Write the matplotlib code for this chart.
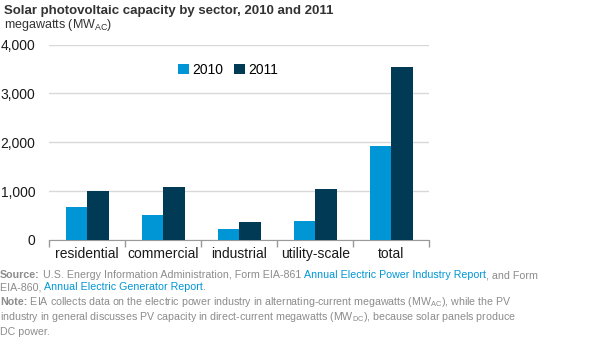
import matplotlib
matplotlib.use("Agg")
import matplotlib.pyplot as plt
import numpy as np

plt.rcParams["font.family"] = ["Liberation Sans", "DejaVu Sans"]
plt.rcParams["mathtext.fontset"] = "custom"
plt.rcParams["mathtext.rm"] = "Liberation Sans"

sectors = ["residential", "commercial", "industrial", "utility-scale", "total"]
cap_2010 = [683, 512, 225, 389, 1925]
cap_2011 = [1003, 1085, 369, 1044, 3543]
years = ["2010", "2011"]
yticks = [0, 1000, 2000, 3000, 4000]

c2010 = "#0096D6"
c2011 = "#003A54"
grey = "#8C8C8C"
blue = "#0096D6"

fig = plt.figure(figsize=(6.1, 3.38), dpi=100)
ax = fig.add_axes([0.0808, 0.290, 0.623, 0.578])

x = np.arange(len(sectors))
w = 0.285
ax.bar(x - w / 2, cap_2010, w, color=c2010, label=years[0], zorder=3)
ax.bar(x + w / 2, cap_2011, w, color=c2011, label=years[1], zorder=3)

ax.set_xlim(-0.5, len(sectors) - 0.5)
ax.set_ylim(0, 4000)
ax.set_yticks(yticks)
ax.set_yticklabels([f"{v:,}" for v in yticks], fontsize=10, color="#1a1a1a")
ax.yaxis.grid(True, color="#d9d9d9", linewidth=1, zorder=0)
ax.tick_params(axis="y", length=0, pad=10)

ax.set_xticks(x)
ax.set_xticklabels(sectors, fontsize=10, color="#1a1a1a")
ax.set_xticks(np.arange(-0.5, len(sectors)), minor=True)
ax.tick_params(axis="x", which="major", length=0, pad=5)
ax.tick_params(axis="x", which="minor", length=5, color="#999999", width=1)

for s in ["top", "right", "left"]:
    ax.spines[s].set_visible(False)
ax.spines["bottom"].set_color("#999999")

ax.legend(loc="center", bbox_to_anchor=(0.47, 0.87), ncol=2, frameon=False,
          fontsize=10, handlelength=0.8, handleheight=0.8, handletextpad=0.2,
          columnspacing=0.8)

fig.text(0.006, 0.967, "Solar photovoltaic capacity by sector, 2010 and 2011",
         fontsize=9.5, fontweight="bold", color="#333333", va="center")
fig.text(0.006, 0.926, r"megawatts (MW$_{\mathregular{AC}}$)", fontsize=9,
         color="#333333", va="center")

renderer = fig.canvas.get_renderer()


def text_line(y, parts, fs=7.7):
    xpos = 0.0
    for s, col, bold in parts:
        t = fig.text(xpos, y, s, fontsize=fs, color=col,
                     fontweight="bold" if bold else "normal",
                     va="baseline", ha="left")
        bb = t.get_window_extent(renderer)
        xpos += bb.width / fig.bbox.width


text_line(1 - 278 / 338, [("Source:", grey, True),
                          (" U.S. Energy Information Administration, Form EIA-861 ", grey, False),
                          ("Annual Electric Power Industry Report", blue, False),
                          (", and Form", grey, False)])
text_line(1 - 290 / 338, [("EIA-860, ", grey, False),
                          ("Annual Electric Generator Report", blue, False),
                          (".", grey, False)])
text_line(1 - 305 / 338, [("Note:", grey, True),
                          (" EIA collects data on the electric power industry in alternating-current megawatts (MW$_{\\mathregular{AC}}$), while the PV", grey, False)])
text_line(1 - 320 / 338, [("industry in general discusses PV capacity in direct-current megawatts (MW$_{\\mathregular{DC}}$), because solar panels produce", grey, False)])
text_line(1 - 335 / 338, [("DC power.", grey, False)])

fig.savefig("out.png", dpi=100)
